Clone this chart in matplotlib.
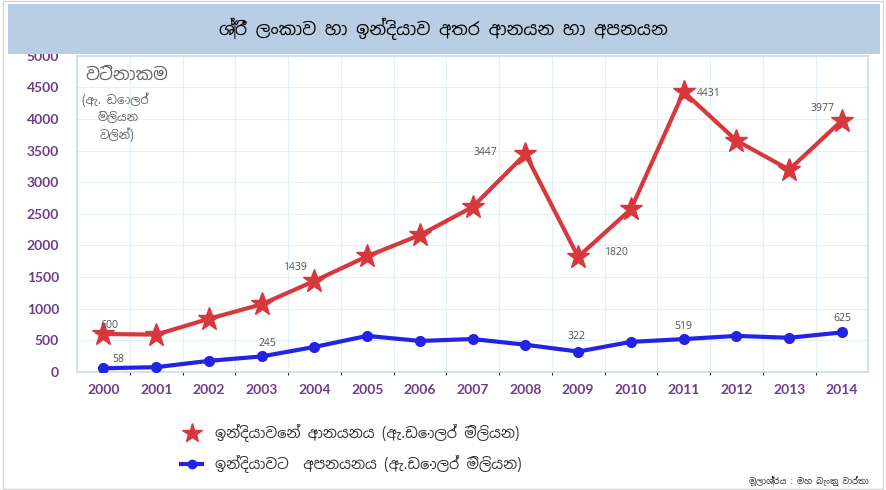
import matplotlib
matplotlib.use("Agg")
import matplotlib.pyplot as plt
from matplotlib.patches import Rectangle
from matplotlib.lines import Line2D
import numpy as np

plt.rcParams['font.family'] = ['Noto Sans Sinhala', 'DejaVu Sans']

# data (USD millions)
years = [2000, 2001, 2002, 2003, 2004, 2005, 2006, 2007,
         2008, 2009, 2010, 2011, 2012, 2013, 2014]
imports = [600, 590, 840, 1070, 1439, 1830, 2165, 2610,
           3447, 1820, 2575, 4431, 3660, 3200, 3977]
exports = [58, 75, 175, 245, 395, 570, 490, 520,
           430, 322, 475, 519, 570, 540, 625]

title = "ශ්‍රී ලංකාව හා ඉන්දියාව අතර ආනයන හා අපනයන"
ylab_lines = ["වටිනාකම", "(ඇ. ඩොලර්", "මිලියන", "වලින්)"]
imp_label = "ඉන්දියාවෙන් ආනයනය (ඇ.ඩොලර් මිලියන)"
exp_label = "ඉන්දියාවට  අපනයනය (ඇ.ඩොලර් මිලියන)"
source = "මූලාශ්‍රය : මහ බැංකු වාර්තා"

# which points carry a value label, and where it sits (offset points)
imp_notes = {2000: (4, 6), 2004: (-14, 10), 2008: (-29, 1), 2009: (27, 3),
             2011: (18, -1), 2014: (-14, 9)}
exp_notes = {2000: (11, 6), 2003: (4, 9), 2009: (-1, 11),
             2011: (0, 9), 2014: (0, 10)}

red = "#d8383c"
blue = "#2323e6"
purple = "#6f3d8f"
light = "#c9dbef"

fig = plt.figure(figsize=(8.86, 4.9), dpi=100)
ax = fig.add_axes([0.087, 0.241, 0.893, 0.645])

x = np.arange(len(years))
ax.plot(x, imports, color=red, lw=3, marker="*", ms=17, mec=red, mfc=red,
        zorder=3)
ax.plot(x, exports, color=blue, lw=3, marker="o", ms=7, mec=blue, mfc=blue,
        zorder=3)

for i, yr in enumerate(years):
    if yr in imp_notes:
        ax.annotate(str(imports[i]), (x[i], imports[i]), xytext=imp_notes[yr],
                    textcoords="offset points", ha="center", va="center",
                    fontsize=7.5, color="#555555")
    if yr in exp_notes:
        ax.annotate(str(exports[i]), (x[i], exports[i]), xytext=exp_notes[yr],
                    textcoords="offset points", ha="center", va="center",
                    fontsize=7.5, color="#555555")

ax.set_xlim(-0.5, len(years) - 0.5)
ax.set_ylim(0, 5000)
ax.set_xticks(x)
ax.set_xticklabels([str(y) for y in years])
ax.set_xticks(x[:-1] + 0.5, minor=True)
ax.set_yticks(np.arange(0, 5001, 500))
ax.tick_params(axis="both", length=0, colors=purple)
ax.tick_params(axis="x", pad=9)
ax.tick_params(axis="y", pad=13)
for lab in ax.get_xticklabels() + ax.get_yticklabels():
    lab.set_family("Lato")
    lab.set_fontweight("bold")
    lab.set_fontsize(10)
ax.grid(True, which="major", axis="y", color="#e4f0f8", lw=0.8)
ax.grid(True, which="minor", axis="x", color="#e4f0f8", lw=0.8)
for s in ax.spines.values():
    s.set_color(light)
    s.set_linewidth(1.2)

# value caption inside the plot, top left
ax.text(0.01, 0.94, ylab_lines[0], transform=ax.transAxes, fontsize=12.5,
        color="#666666", va="center")
ax.text(0.006, 0.86, ylab_lines[1], transform=ax.transAxes, fontsize=8.5,
        color="#666666", va="center")
ax.text(0.026, 0.805, ylab_lines[2], transform=ax.transAxes, fontsize=8.5,
        color="#666666", va="center")
ax.text(0.028, 0.75, ylab_lines[3], transform=ax.transAxes, fontsize=8.5,
        color="#666666", va="center")

# title band
fig.patches.append(Rectangle((0.009, 0.89), 0.984, 0.102,
                             transform=fig.transFigure, facecolor="#b9cde5",
                             edgecolor="none", zorder=5))
fig.text(0.5, 0.941, title, ha="center", va="center", fontsize=12.5,
         fontweight="bold", style="italic", color="black", zorder=6)
fig.patches.append(Rectangle((0.003, 0.003), 0.994, 0.994,
                             transform=fig.transFigure, facecolor="none",
                             edgecolor="#d6d6d6", lw=1, zorder=5))

handles = [Line2D([], [], color=red, marker="*", ms=15, ls="none"),
           Line2D([], [], color=blue, marker="o", ms=6, lw=3)]
fig.legend(handles, [imp_label, exp_label], loc="center left",
           bbox_to_anchor=(0.19, 0.085), frameon=False, fontsize=10.5,
           labelcolor="#333333", handlelength=1.4, labelspacing=0.9,
           handletextpad=0.9)

fig.text(0.98, 0.018, source, ha="right", va="center", fontsize=6,
         style="italic", color="#333333")

fig.savefig("out.png")
